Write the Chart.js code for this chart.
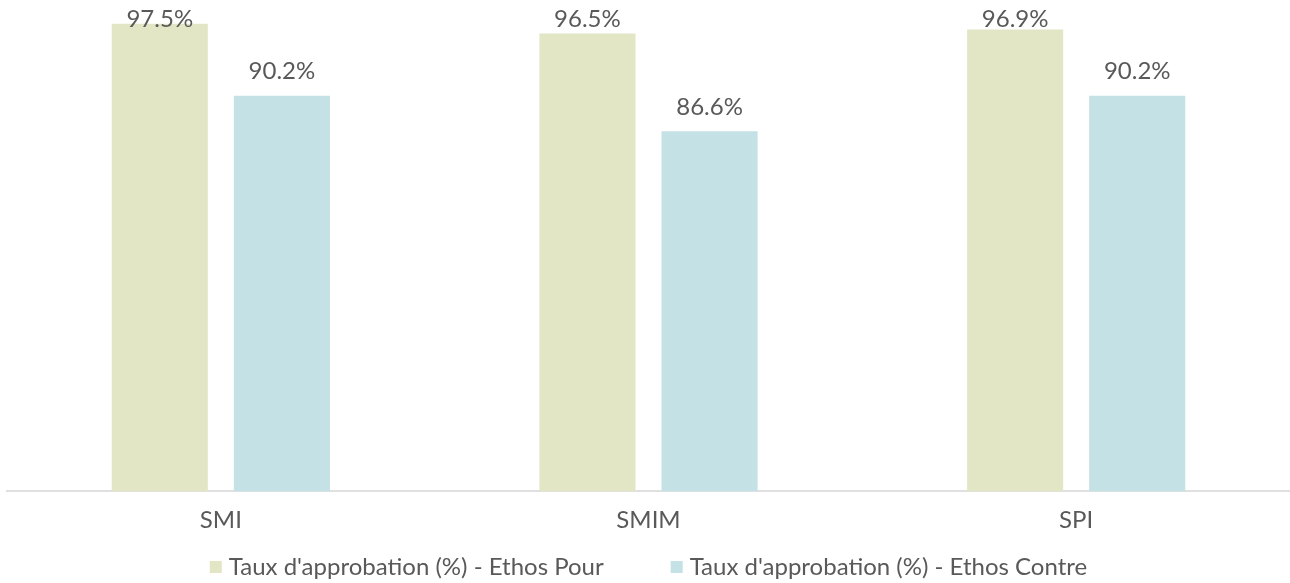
<!DOCTYPE html>
<html>
<head>
<meta charset="utf-8">
<script src="https://cdn.jsdelivr.net/npm/chart.js@4.4.1/dist/chart.umd.min.js"></script>
<style>
  html, body { margin: 0; padding: 0; background: #fff; }
  #wrap { width: 1290px; height: 583px; position: relative; }
</style>
</head>
<body>
<div id="wrap"><canvas id="chart"></canvas></div>
<script>
// Data
const categories = ["SMI", "SMIM", "SPI"];
const ethosPour = [97.5, 96.5, 96.9];
const ethosContre = [90.2, 86.6, 90.2];
const seriesNames = [
  "Taux d'approbation (%) - Ethos Pour",
  "Taux d'approbation (%) - Ethos Contre",
];

const textColor = "#595959";
const fontFamily = "Lato, 'Open Sans', sans-serif";

// Value labels above each bar (kept inside the canvas at the top)
const barLabels = {
  id: "barLabels",
  afterDatasetsDraw(chart) {
    const ctx = chart.ctx;
    ctx.save();
    ctx.font = "24px " + fontFamily;
    ctx.fillStyle = textColor;
    ctx.textAlign = "center";
    ctx.textBaseline = "middle";
    chart.data.datasets.forEach((ds, i) => {
      chart.getDatasetMeta(i).data.forEach((bar, j) => {
        ctx.fillText(ds.data[j].toFixed(1) + "%", bar.x, Math.max(bar.y - 24, 19));
      });
    });
    ctx.restore();
  },
};

// Bottom legend with wide gap between items
const bottomLegend = {
  id: "bottomLegend",
  afterDraw(chart) {
    const ctx = chart.ctx;
    ctx.save();
    ctx.font = "24px " + fontFamily;
    ctx.textBaseline = "middle";
    const box = 12, gap = 7, itemGap = 67, y = 567;
    const widths = chart.data.datasets.map((ds) => box + gap + ctx.measureText(ds.label).width);
    const total = widths.reduce((a, b) => a + b, 0) + itemGap * (widths.length - 1);
    let x = (chart.chartArea.left + chart.chartArea.right) / 2 - total / 2;
    chart.data.datasets.forEach((ds, i) => {
      ctx.fillStyle = ds.backgroundColor;
      ctx.fillRect(x, y - box / 2, box, box);
      ctx.fillStyle = textColor;
      ctx.fillText(ds.label, x + box + gap, y);
      x += widths[i] + itemGap;
    });
    ctx.restore();
  },
};

new Chart(document.getElementById("chart"), {
  type: "bar",
  data: {
    labels: categories,
    datasets: [
      { label: seriesNames[0], data: ethosPour, backgroundColor: "#e2e6c4" },
      { label: seriesNames[1], data: ethosContre, backgroundColor: "#c4e1e6" },
    ],
  },
  options: {
    responsive: true,
    maintainAspectRatio: false,
    animation: false,
    datasets: { bar: { categoryPercentage: 0.571, barPercentage: 0.787 } },
    layout: { padding: { left: 7, right: 0, top: 0, bottom: 33 } },
    plugins: { legend: { display: false }, tooltip: { enabled: false } },
    scales: {
      x: {
        grid: { display: false, drawTicks: false },
        border: { display: true, color: "#e0e0e0", width: 2 },
        ticks: { color: textColor, font: { family: fontFamily, size: 24 }, padding: 15 },
      },
      y: { display: false, min: 50.1, max: 99.9 },
    },
  },
  plugins: [barLabels, bottomLegend],
});
</script>
</body>
</html>
